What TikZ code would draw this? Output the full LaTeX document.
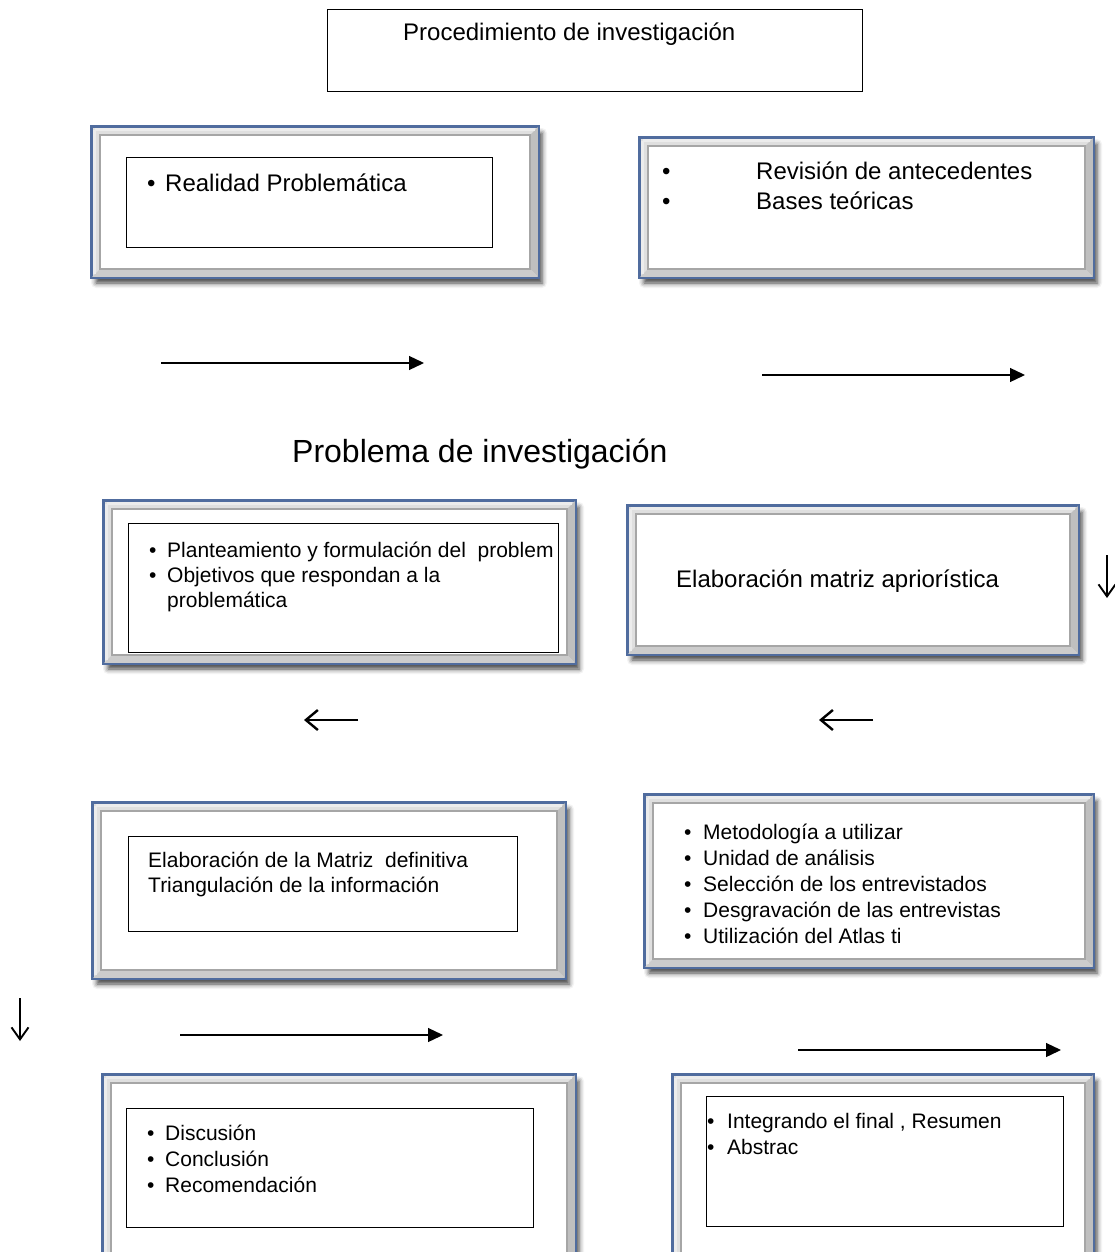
\documentclass[tikz,border=0pt]{standalone}
\usepackage{fontspec}
\setmainfont{Liberation Sans}
\usetikzlibrary{arrows.meta,fit,shadows.blur}
\definecolor{frameblue}{RGB}{80,108,158}
\newcommand\fancyframe[5]{%
  \node[outerframe, fit={(#2,#3)(#4,#5)}] (#1) {};
  \fill[gray!50] (#1.north east) -- (#1.south east) -- ([shift={(-9,-9)}]#1.south east) -- ([shift={(-9,9)}]#1.north east) -- cycle;
  \fill[gray!40] (#1.south west) -- (#1.south east) -- ([shift={(-9,-9)}]#1.south east) -- ([shift={(9,-9)}]#1.south west) -- cycle;
  \draw[white!85!gray, line width=3pt] ([shift={(3.5,3.5)}]#1.north west) -- ([shift={(3.5,-3.5)}]#1.south west);
  \draw[white!85!gray, line width=3pt] ([shift={(3.5,3.5)}]#1.north west) -- ([shift={(-3.5,3.5)}]#1.north east);
  \draw[innerline] ([shift={(9,9)}]#1.north west) rectangle ([shift={(-9,-9)}]#1.south east);
  \draw[frameblue, line width=1.6pt] (#1.north west) rectangle (#1.south east);
}
\begin{document}
\begin{tikzpicture}[x=1pt,y=-1pt,
  outerframe/.style={draw=frameblue, line width=1.6pt, fill=gray!25, inner sep=0pt,
    blur shadow={shadow xshift=4pt, shadow yshift=-6pt, shadow blur radius=5pt, shadow opacity=75}},
  innerline/.style={draw=gray!70, line width=1.5pt, fill=white},
  thinbox/.style={draw=black, line width=0.8pt, inner sep=0pt},
  big/.style={font=\fontsize{24}{28}\selectfont, inner sep=0pt, anchor=base west},
  small/.style={font=\fontsize{21}{25}\selectfont, inner sep=0pt, anchor=base west},
  huge/.style={font=\fontsize{32}{36}\selectfont, inner sep=0pt, anchor=base west},
  rarrow/.style={line width=1.3pt, -{Triangle[length=15pt,width=14pt]}},
  barb/.style={line width=2.4pt, -{Straight Barb[length=12pt,width=20pt]}},
  dbarb/.style={line width=1.9pt, -{Straight Barb[length=12pt,width=17pt]}},
]
\useasboundingbox (0,0) rectangle (1115,1252);

% top box
\node[thinbox, fit={(327,9)(862,91)}] (top) {};
\node[big] (toptext) at (403,41) {Procedimiento de investigación};

% box 1
\fancyframe{f1}{92}{127}{538}{277}
\node[thinbox, fit={(126,157)(492,247)}] (i1) {};
\node[big] (b1a) at (147,192) {•};
\node[big] (t1a) at (165,192) {Realidad Problemática};

% box 2
\fancyframe{f2}{640}{138}{1093}{277}
\node[big] (b2a) at (662,180) {•};
\node[big] (t2a) at (756,180) {Revisión de antecedentes};
\node[big] (b2b) at (662,210) {•};
\node[big] (t2b) at (756,210) {Bases teóricas};

% arrows row 1
\coordinate (a1s) at (161,363); \coordinate (a1e) at (424,363);
\draw[rarrow] (a1s) -- (a1e);
\coordinate (a2s) at (762,375); \coordinate (a2e) at (1025,375);
\draw[rarrow] (a2s) -- (a2e);

% title
\node[huge] (title) at (292,462) {Problema de investigación};

% box 3
\fancyframe{f3}{104}{501}{575}{663}
\node[thinbox, fit={(128,523)(558,652)}] (i3) {};
\node[small] (b3a) at (149,557) {•};
\node[small] (t3a) at (167,557) {Planteamiento y formulación del\ \ problem};
\node[small] (b3b) at (149,582) {•};
\node[small] (t3b) at (167,582) {Objetivos que respondan a la};
\node[small] (t3c) at (167,607) {problemática};

% box 4
\fancyframe{f4}{628}{506}{1078}{654}
\node[big] (t4) at (676,587) {Elaboración matriz apriorística};
\coordinate (d1s) at (1107,555); \coordinate (d1e) at (1107,598);
\draw[dbarb] (d1s) -- (d1e);

% left arrows
\coordinate (l1s) at (358,720); \coordinate (l1e) at (304,720);
\draw[barb] (l1s) -- (l1e);
\coordinate (l2s) at (873,720); \coordinate (l2e) at (819,720);
\draw[barb] (l2s) -- (l2e);

% box 5
\fancyframe{f5}{93}{803}{565}{978}
\node[thinbox, fit={(128,836)(517,931)}] (i5) {};
\node[small] (t5a) at (148,867) {Elaboración de la Matriz\ \ definitiva};
\node[small] (t5b) at (148,892) {Triangulación de la información};

% box 6
\fancyframe{f6}{645}{795}{1093}{967}
\node[small] (b6a) at (684,839) {•};
\node[small] (t6a) at (703,839) {Metodología a utilizar};
\node[small] (b6b) at (684,865) {•};
\node[small] (t6b) at (703,865) {Unidad de análisis};
\node[small] (b6c) at (684,891) {•};
\node[small] (t6c) at (703,891) {Selección de los entrevistados};
\node[small] (b6d) at (684,917) {•};
\node[small] (t6d) at (703,917) {Desgravación de las entrevistas};
\node[small] (b6e) at (684,943) {•};
\node[small] (t6e) at (703,943) {Utilización del Atlas ti};

% left down arrow
\coordinate (d2s) at (20,998); \coordinate (d2e) at (20,1041);
\draw[dbarb] (d2s) -- (d2e);

% arrows row 4
\coordinate (a3s) at (180,1035); \coordinate (a3e) at (443,1035);
\draw[rarrow] (a3s) -- (a3e);
\coordinate (a4s) at (798,1050); \coordinate (a4e) at (1061,1050);
\draw[rarrow] (a4s) -- (a4e);

% box 7
\fancyframe{f7}{103}{1075}{575}{1264}
\node[thinbox, fit={(126,1108)(533,1227)}] (i7) {};
\node[small] (b7a) at (147,1140) {•};
\node[small] (t7a) at (165,1140) {Discusión};
\node[small] (b7b) at (147,1166) {•};
\node[small] (t7b) at (165,1166) {Conclusión};
\node[small] (b7c) at (147,1192) {•};
\node[small] (t7c) at (165,1192) {Recomendación};

% box 8
\fancyframe{f8}{673}{1075}{1093}{1264}
\node[thinbox, fit={(706,1096)(1063,1226)}] (i8) {};
\node[small] (b8a) at (707,1128) {•};
\node[small] (t8a) at (727,1128) {Integrando el final , Resumen};
\node[small] (b8b) at (707,1154) {•};
\node[small] (t8b) at (727,1154) {Abstrac};
\end{tikzpicture}
\end{document}
